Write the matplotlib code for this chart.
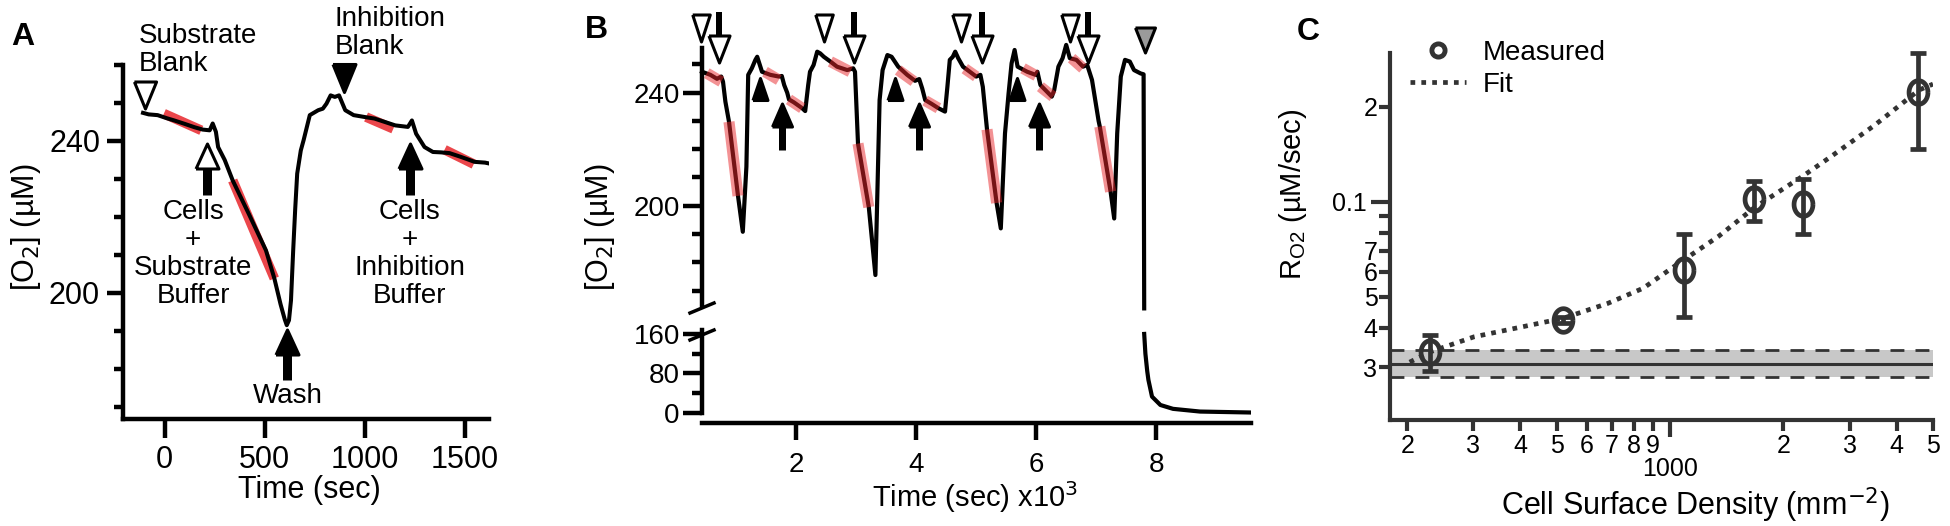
import numpy as np
import matplotlib
matplotlib.use('Agg')
import matplotlib.pyplot as plt
from matplotlib.lines import Line2D

plt.rcParams['font.family'] = ['Liberation Sans', 'DejaVu Sans']

# ---- panel A: single run (time in s, O2 in uM) ----
a_time = [-108, -80, -35, 10, 48, 100, 150, 190, 225, 240, 256, 267, 300, 340, 423, 506, 548,
          579, 600, 610, 621, 631, 642, 652, 662, 680, 694, 725, 767, 790, 808, 829, 850, 871,
          902, 944, 1000, 1048, 1100, 1152, 1215, 1235, 1256, 1298, 1340, 1380, 1423, 1480,
          1548, 1600, 1627]
a_o2 = [247.4, 247.0, 246.8, 246.0, 245.4, 244.5, 243.6, 243.0, 242.8, 244.6, 242.4, 238.4,
        235.0, 229.6, 220.5, 211.2, 203.8, 197.0, 193.0, 191.5, 192.8, 198.0, 211.2, 222.0,
        231.4, 237.5, 240.2, 246.8, 248.1, 248.5, 249.8, 252.0, 251.6, 252.0, 248.1, 246.8,
        246.3, 245.9, 245.0, 244.1, 243.7, 245.4, 241.9, 238.4, 237.1, 237.0, 236.8, 235.8,
        234.5, 234.3, 234.0]
a_fit_t0 = [-4, 340, 1006, 1398]
a_fit_t1 = [183, 548, 1142, 1544]
a_fit_y0 = [247.2, 229.6, 246.3, 237.7]
a_fit_y1 = [242.8, 203.8, 243.2, 233.9]

# ---- panel B: repeated runs (time in ks) ----
b_time = [0.43, 0.57, 0.68, 0.75, 0.78, 0.82, 0.88, 1.03, 1.11, 1.17, 1.20, 1.26, 1.32, 1.35,
          1.43, 1.57, 1.71, 1.76, 1.80, 1.85, 1.88, 1.96, 2.10, 2.15, 2.20, 2.23, 2.29, 2.35,
          2.40, 2.46, 2.57, 2.68, 2.85, 2.95, 2.98, 3.03, 3.21, 3.32, 3.35, 3.39, 3.44, 3.52,
          3.59, 3.70, 3.85, 3.98, 4.05, 4.10, 4.15, 4.26, 4.37, 4.48, 4.52, 4.56, 4.61, 4.65,
          4.70, 4.78, 5.00, 5.07, 5.11, 5.18, 5.34, 5.41, 5.48, 5.54, 5.59, 5.64, 5.69, 5.85,
          5.99, 6.02, 6.07, 6.26, 6.30, 6.37, 6.44, 6.50, 6.56, 6.67, 6.78, 6.85, 6.93, 7.04,
          7.06, 7.24, 7.30, 7.35, 7.41, 7.48, 7.56, 7.63, 7.74, 7.79, 7.80]
b_o2 = [247.4, 246.3, 244.9, 245.7, 243.9, 236.8, 229.7, 203.5, 190.8, 213.8, 246.3, 248.6,
        251.6, 252.7, 247.4, 246.3, 245.7, 245.9, 242.7, 240.0, 237.6, 236.6, 234.5, 233.5,
        242.7, 247.4, 249.8, 254.5, 253.9, 252.7, 251.0, 249.2, 248.0, 248.6, 247.4, 222.0,
        199.5, 175.5, 202.0, 237.4, 248.0, 253.3, 252.7, 249.2, 246.3, 244.2, 244.8, 241.5,
        237.4, 236.0, 234.5, 233.3, 242.1, 251.6, 252.7, 254.5, 252.2, 249.2, 245.7, 246.3,
        242.1, 227.0, 201.0, 192.0, 225.6, 239.8, 250.4, 255.1, 249.2, 247.4, 246.3, 247.4,
        242.7, 238.6, 240.9, 249.2, 252.2, 256.9, 252.2, 251.6, 249.2, 249.8, 244.5, 230.0,
        228.0, 205.0, 195.5, 225.6, 245.7, 251.6, 251.0, 248.0, 246.8, 246.5, 163.7]
b_low_time = [7.80, 7.82, 7.85, 7.87, 7.93, 8.07, 8.28, 8.73, 9.56]
b_low_o2 = [160, 120, 85, 67, 33, 16, 8.2, 2.7, 0.8]
b_fit_t0 = [0.51, 0.88, 1.48, 1.88, 2.57, 3.03, 3.70, 4.15, 4.81, 5.18, 5.78, 6.07, 6.59, 7.06]
b_fit_t1 = [0.75, 1.03, 1.71, 2.10, 2.90, 3.21, 3.96, 4.37, 5.00, 5.34, 6.00, 6.28, 6.78, 7.24]
b_fit_y0 = [246.9, 229.7, 247.4, 237.6, 251.0, 222.0, 248.0, 237.2, 248.5, 227.0, 248.6, 242.1, 252.2, 228.0]
b_fit_y1 = [243.9, 203.5, 244.5, 234.5, 247.4, 199.5, 244.0, 234.5, 245.7, 201.0, 246.0, 238.6, 248.6, 205.0]
b_blank_t = [0.42, 2.47, 4.75, 6.57]
b_cells_t = [0.72, 2.97, 5.10, 6.87]
b_inhblank_t = [1.40, 3.65, 5.68]
b_inhcells_t = [1.76, 4.05, 6.05]
b_end_t = 7.81

# ---- panel C: rate vs cell density ----
c_x = [230, 519, 1092, 1675, 2261, 4550]
c_y = [0.0335, 0.0423, 0.0610, 0.102, 0.0983, 0.223]
c_lo = [0.0292, 0.0415, 0.0433, 0.087, 0.0789, 0.147]
c_hi = [0.0378, 0.0431, 0.0794, 0.1167, 0.118, 0.297]
c_fit_x = [203, 230, 301, 395, 519, 682, 848, 1026, 1347, 1675, 2261, 2663, 3496, 4591, 5000]
c_fit_y = [0.0311, 0.0335, 0.0374, 0.0400, 0.0428, 0.0477, 0.0533, 0.0625, 0.0779, 0.0959,
           0.121, 0.1385, 0.1748, 0.226, 0.236]
c_base = 0.0307
c_base_lo = 0.0280
c_base_hi = 0.0340

W, H = 1950, 526
PT = 72 / 100  # points per pixel


def fx(px):
    return px / W


def fy(py):
    return 1 - py / H


def tri(ratio, up=False):
    if up:
        return [(-ratio / 2, -0.5), (ratio / 2, -0.5), (0, 0.5), (-ratio / 2, -0.5)]
    return [(-ratio / 2, 0.5), (ratio / 2, 0.5), (0, -0.5), (-ratio / 2, 0.5)]


def marker(ax, x, y, h_px, ratio, fc, up=False, mew=2.2):
    ax.plot([x], [y], marker=tri(ratio, up), ms=h_px * PT, mfc=fc, mec='black',
            mew=mew, ls='none', clip_on=False, zorder=6)


def shaft(ax, x, y0, y1, w_px):
    ax.plot([x, x], [y0, y1], color='black', lw=w_px * PT, solid_capstyle='butt',
            clip_on=False, zorder=5)


def style_axis(ax, lw=3.2):
    for s in ['top', 'right']:
        ax.spines[s].set_visible(False)
    for s in ['left', 'bottom']:
        ax.spines[s].set_linewidth(lw)


fig = plt.figure(figsize=(19.5, 5.26), dpi=100)

# ================= A =================
axA = fig.add_axes([fx(123), fy(419), (489 - 123) / W, (419 - 65) / H])
style_axis(axA)
axA.plot(a_time, a_o2, color='black', lw=2.9, zorder=3)
for t0, t1, y0, y1 in zip(a_fit_t0, a_fit_t1, a_fit_y0, a_fit_y1):
    axA.plot([t0, t1], [y0, y1], color='#e8262b', lw=7, alpha=0.85,
             solid_capstyle='butt', zorder=2)
axA.set_xlim(-208, 1620)
axA.set_ylim(166.8, 259.9)
axA.set_xticks([0, 500, 1000, 1500])
axA.set_yticks([200, 240])
axA.set_yticks([170, 180, 190, 210, 220, 230, 250, 260], minor=True)
axA.tick_params(axis='x', length=13.5, width=3.2, pad=5, labelsize=22)
axA.tick_params(axis='y', which='major', length=11.5, width=3.2, pad=5, labelsize=22)
axA.tick_params(axis='y', which='minor', length=6.5, width=3.2)

marker(axA, -98, 252.0, 27, 0.82, 'white')
shaft(axA, 210, 233.3, 225.7, 9)
marker(axA, 210, 236.0, 25, 0.92, 'white', up=True)
shaft(axA, 610, 184.5, 177.0, 9)
marker(axA, 610, 187.1, 25, 0.92, 'black', up=True)
marker(axA, 898, 256.6, 28, 0.82, 'black')
shaft(axA, 1225, 233.3, 225.7, 9)
marker(axA, 1225, 236.0, 25, 0.92, 'black', up=True)

tkw = dict(fontsize=20, linespacing=1.1)
axA.text(-129, 271.0, 'Substrate\nBlank', ha='left', va='top', **tkw)
axA.text(850, 275.5, 'Inhibition\nBlank', ha='left', va='top', **tkw)
axA.text(142, 224.8, 'Cells\n+\nSubstrate\nBuffer', ha='center', va='top', **tkw)
axA.text(1225, 224.8, 'Cells\n+\nInhibition\nBuffer', ha='center', va='top', **tkw)
axA.text(617, 176.3, 'Wash', ha='center', va='top', **tkw)

fig.text(fx(309), fy(490), 'Time (sec)', ha='center', va='center', fontsize=22)
fig.text(fx(26), fy(227), '[O$_2$] (µM)', ha='center', va='center', rotation=90, fontsize=22)
fig.text(fx(23), fy(37), 'A', ha='center', va='center', fontsize=23, fontweight='bold')

# ================= B =================
axB = fig.add_axes([fx(702), fy(305), (1251 - 702) / W, (305 - 48) / H])
axB2 = fig.add_axes([fx(702), fy(423), (1251 - 702) / W, (423 - 330) / H])
for ax in (axB, axB2):
    style_axis(ax)
    ax.set_xlim(0.43, 9.58)
axB.spines['bottom'].set_visible(False)
axB.tick_params(axis='x', bottom=False, labelbottom=False)
axB.set_ylim(164.9, 255.8)
axB.set_yticks([200, 240])
axB.set_yticks([170, 180, 190, 210, 220, 230, 250], minor=True)
axB.tick_params(axis='y', which='major', length=13.5, width=3.2, pad=2, labelsize=20)
axB.tick_params(axis='y', which='minor', length=7, width=3.2)

axB.plot(b_time, b_o2, color='black', lw=3.0, zorder=3, clip_on=False)
for t0, t1, y0, y1 in zip(b_fit_t0, b_fit_t1, b_fit_y0, b_fit_y1):
    axB.plot([t0, t1], [y0, y1], color='#e8262b', lw=8, alpha=0.5,
             solid_capstyle='butt', zorder=4)

axB2.set_ylim(-20.5, 168)
axB2.spines['left'].set_bounds(0, 168)
axB2.plot(b_low_time, b_low_o2, color='black', lw=3.0, zorder=3)
axB2.set_yticks([0, 80, 160])
axB2.set_yticks([40, 120], minor=True)
axB2.set_xticks([2, 4, 6, 8])
axB2.tick_params(axis='y', which='major', length=14, width=3.2, pad=2, labelsize=20)
axB2.tick_params(axis='y', which='minor', length=7, width=3.2)
axB2.tick_params(axis='x', length=12, width=3.2, pad=9, labelsize=20)

for t in b_blank_t:
    marker(axB, t, 262.7, 27, 0.65, 'white')
for t in b_cells_t:
    shaft(axB, t, 268.5, 259.5, 6)
    marker(axB, t, 255.6, 27, 0.78, 'white')
for t in b_inhblank_t:
    marker(axB, t, 241.3, 22, 0.68, 'black', up=True)
for t in b_inhcells_t:
    shaft(axB, t, 229.0, 219.7, 7)
    marker(axB, t, 232.1, 23, 0.87, 'black', up=True)
marker(axB, b_end_t, 258.5, 25, 0.8, '#9a9a9a')

for yb in (313, 340):
    fig.add_artist(Line2D([fx(690), fx(714)], [fy(yb), fy(yb - 10)],
                          transform=fig.transFigure, color='black', lw=2.5))

fig.text(fx(975), fy(497), 'Time (sec) x10$^3$', ha='center', va='center', fontsize=21)
fig.text(fx(600), fy(227), '[O$_2$] (µM)', ha='center', va='center', rotation=90, fontsize=22)
fig.text(fx(596), fy(30), 'B', ha='center', va='center', fontsize=23, fontweight='bold')

# ================= C =================
dark = '#333333'
axC = fig.add_axes([fx(1390), fy(420), (1933 - 1390) / W, (420 - 53) / H])
style_axis(axC, lw=3.0)
for s in ['left', 'bottom']:
    axC.spines[s].set_color(dark)
axC.set_xscale('log')
axC.set_yscale('log')
axC.set_xlim(180, 5000)
axC.set_ylim(0.0204, 0.296)

axC.axhspan(c_base_lo, c_base_hi, color='#c8c8c8', lw=0, zorder=1)
axC.axhline(c_base, color=dark, lw=2.2, zorder=2)
axC.axhline(c_base_lo, color=dark, lw=2.0, ls=(0, (5, 4)), zorder=2)
axC.axhline(c_base_hi, color=dark, lw=2.0, ls=(0, (5, 4)), zorder=2)

axC.plot(c_fit_x, c_fit_y, color=dark, lw=3.4, ls=(0, (1, 1.3)), zorder=3)
yerr = [np.array(c_y) - np.array(c_lo), np.array(c_hi) - np.array(c_y)]
t_ell = np.linspace(0, 2 * np.pi, 60)
ellipse = list(zip(0.4 * np.cos(t_ell), 0.5 * np.sin(t_ell)))
axC.errorbar(c_x, c_y, yerr=yerr, fmt='none', ecolor=dark, elinewidth=3.4,
             capsize=5.5, capthick=3.4, zorder=4, clip_on=False)
axC.plot(c_x, c_y, ls='none', marker=ellipse, ms=17, mfc='none', mec=dark, mew=3.4,
         zorder=5)

axC.set_xticks([200, 300, 400, 500, 600, 700, 800, 900, 2000, 3000, 4000, 5000],
               ['2', '3', '4', '5', '6', '7', '8', '9', '2', '3', '4', '5'])
axC.set_xticks([1000], ['1000'], minor=True)
axC.set_yticks([0.03, 0.04, 0.05, 0.06, 0.07, 0.08, 0.09, 0.2],
               ['3', '4', '5', '6', '7', '', '', '2'])
axC.set_yticks([0.1], ['0.1'], minor=True)
axC.tick_params(axis='x', which='major', length=8, width=3.0, pad=2, labelsize=18, color=dark)
axC.tick_params(axis='x', which='minor', length=12, width=3.0, pad=15, labelsize=18, color=dark)
axC.tick_params(axis='y', which='major', length=8, width=3.0, pad=1, labelsize=18, color=dark)
axC.tick_params(axis='y', which='minor', length=14, width=3.0, pad=3, labelsize=18, color=dark)

handles = [Line2D([], [], ls='none', marker='o', ms=9.5, mfc='none', mec=dark, mew=3.5),
           Line2D([], [], color=dark, lw=3.4, ls=(0, (1, 1.3)))]
axC.legend(handles, ['Measured', 'Fit'], loc='upper left', bbox_to_anchor=(0.037, 1.035),
           frameon=False, fontsize=20, handlelength=2.0, handletextpad=0.6,
           borderpad=0, borderaxespad=0, labelspacing=0.2)

fig.text(fx(1695), fy(505), 'Cell Surface Density (mm$^{-2}$)', ha='center', va='center',
         fontsize=22)
fig.text(fx(1293), fy(194), r'R$_{\mathregular{O2}}$ (µM/sec)', ha='center', va='center',
         rotation=90, fontsize=21)
fig.text(fx(1308), fy(32), 'C', ha='center', va='center', fontsize=23, fontweight='bold')

fig.savefig('out.png', dpi=100)
